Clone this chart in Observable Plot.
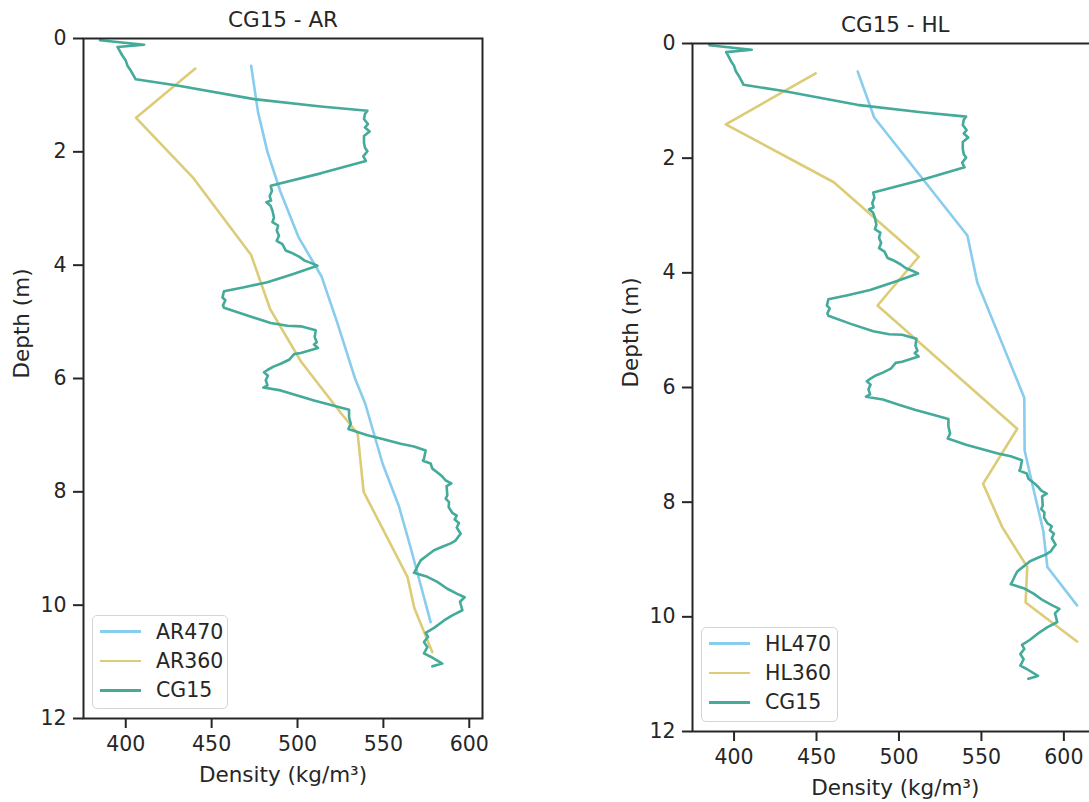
<!DOCTYPE html>
<html><head><meta charset="utf-8">
<script src="https://cdn.jsdelivr.net/npm/d3@7"></script>
<script src="https://cdn.jsdelivr.net/npm/@observablehq/plot@0.6"></script>
<style>
html,body{margin:0;padding:0;overflow:hidden;background:#fff;width:1089px;height:802px;font-family:"DejaVu Sans";color:#262626;position:relative;}
#left,#right{position:absolute;top:0;height:802px;}
#left{left:0;width:600px;} #right{left:600px;width:510px;}
#left svg,#right svg{max-width:none !important;display:block;}
.legend{position:absolute;border:1px solid #d4d4d4;border-radius:5px;background:rgba(255,255,255,0.85);box-sizing:border-box;}
.legend .sw{position:absolute;height:2.6px;width:41px;margin-top:-1.3px;}
.legend .lb{position:absolute;font-size:20.5px;line-height:20px;margin-top:-10px;white-space:nowrap;color:#262626;}
</style></head><body>
<div id="left"></div><div id="right"></div>
<script>
const depthTicks = [0, 2, 4, 6, 8, 10, 12];
const densityTicks = [400, 450, 500, 550, 600];

const cg15Depth = [0.03,0.11,0.15,0.19,0.30,0.39,0.48,0.57,0.72,0.83,1.07,1.20,1.275,1.33,1.42,1.51,1.57,1.64,1.72,1.84,1.93,1.99,2.08,2.16,2.38,2.60,2.69,2.78,2.86,2.89,2.95,3.04,3.16,3.24,3.30,3.39,3.48,3.57,3.63,3.74,3.78,3.85,3.92,3.96,4.01,4.05,4.15,4.30,4.39,4.46,4.57,4.62,4.71,4.75,4.89,5.02,5.07,5.08,5.15,5.27,5.36,5.40,5.46,5.55,5.57,5.67,5.74,5.79,5.85,5.89,5.95,6.03,6.12,6.16,6.21,6.30,6.39,6.48,6.55,6.68,6.80,6.89,7.00,7.06,7.15,7.20,7.27,7.42,7.45,7.50,7.59,7.68,7.73,7.80,7.85,7.90,8.06,8.12,8.18,8.27,8.37,8.42,8.49,8.55,8.63,8.74,8.80,8.86,8.91,8.97,9.03,9.12,9.21,9.30,9.38,9.43,9.50,9.59,9.71,9.80,9.86,9.94,10.09,10.18,10.27,10.40,10.49,10.56,10.65,10.74,10.85,10.91,11.03,11.08];
const cg15Density = [385,410.7,395.2,396,398,400,401,403,405.8,430,474.7,513.5,540.7,539.3,538.7,541,539.3,542,538.7,538.7,539.3,540.7,538.3,539.8,513.5,484.4,485.1,483.8,484.6,481.9,484.3,485.4,486.3,485.4,488.7,487.9,489.2,487.9,491.2,493.1,496.4,500.9,504.2,507.7,511.6,507.7,498,482.5,468.9,457.2,456.3,458,456.6,457.2,470.8,484.4,494.1,501.9,510.6,510,511.2,509.6,511.9,501.9,498,495.1,490.2,486,482.5,480.5,482.8,481.5,482.5,480.1,490.2,499.9,509.6,521.2,530,530,531,529.6,540.7,548.4,560,567.8,574.6,573.6,573,577.5,578.5,582.4,584.3,586.3,589.6,586.8,587.2,586.3,588.2,588,590.1,592.7,591.5,594,592.7,595,593.4,592,589.2,584.3,579.5,575.6,571.7,570.1,568.8,567.8,575.6,581.4,587.2,593,597.3,594.6,596,590.1,585.3,579.5,574.6,576,573.6,575.6,573.6,577.5,584.3,578.5];

const ar470Depth = [0.48,1.30,2.0,2.7,3.5,4.2,5.0,6.0,6.45,7.5,8.25,9.0,10.3];
const ar470Density = [473,477,482.5,490,500.5,514,523,533.5,539.5,549.5,559,566,577.5];

const ar360Depth = [0.53,1.40,2.45,3.82,4.77,5.7,6.6,6.97,8.0,9.5,10.05,10.83];
const ar360Density = [440.5,406,439,473,484,502,525,535,538.5,564,568,578.5];

const hl470Depth = [0.49,1.29,3.35,4.17,6.18,7.1,7.7,8.5,9.13,9.8];
const hl470Density = [475,485,541.5,547.5,576,576.2,581,587.5,590,608];

const hl360Depth = [0.52,1.41,2.42,3.72,4.57,6.72,7.68,8.44,9.13,9.75,10.43];
const hl360Density = [449.5,395,460.5,512,487,571.7,551,562.7,577.8,576.8,608];

const colors = {c470: "#88CCEE", c360: "#DDCC77", cg: "#44AA99"};
const ink = "#262626";

function rows(depth, density) { return depth.map((d, i) => ({d, v: density[i]})); }

function panel(el, {title, series, xDomain, width, m}) {
  const fig = Plot.plot({
    width, height: 802,
    marginLeft: m[0], marginRight: m[1], marginTop: m[2], marginBottom: m[3],
    style: {fontFamily: "DejaVu Sans", fontSize: "20px", color: ink, background: "transparent", overflow: "visible", maxWidth: "none"},
    x: {domain: xDomain, label: null},
    y: {domain: [0, 12], reverse: true, label: null},
    marks: [
      ...series.map(s => Plot.line(rows(s.depth, s.density), {x: "v", y: "d", stroke: s.color, strokeWidth: 2.6})),
      Plot.frame({stroke: ink, strokeWidth: 2}),
      Plot.axisX({anchor: "bottom", ticks: densityTicks, tickSize: 10, tickPadding: 8, fontSize: 20.5, strokeWidth: 2, stroke: ink, label: null}),
      Plot.axisY({anchor: "left", ticks: depthTicks, tickSize: 10, tickPadding: 7, fontSize: 20.5, strokeWidth: 2, stroke: ink, label: null}),
      Plot.text([title], {frameAnchor: "top", lineAnchor: "middle", dy: -18, fontSize: 21.5, fill: ink}),
      Plot.text(["Depth (m)"], {frameAnchor: "left", lineAnchor: "middle", dx: -61, rotate: -90, fontSize: 21.5, fill: ink}),
      Plot.text(["Density (kg/m³)"], {frameAnchor: "bottom", lineAnchor: "middle", dy: 57, fontSize: 21.5, fill: ink})
    ]
  });
  el.appendChild(fig);
}

function legend(left, top, w, h, items) {
  const box = document.createElement("div");
  box.className = "legend";
  Object.assign(box.style, {left: left + "px", top: top + "px", width: w + "px", height: h + "px"});
  items.forEach((it, i) => {
    const y = 15.7 + i * 29.3;
    const sw = document.createElement("div");
    sw.className = "sw";
    Object.assign(sw.style, {left: "7px", top: y + "px", background: it.color});
    const lb = document.createElement("div");
    lb.className = "lb";
    Object.assign(lb.style, {left: "63px", top: y + "px"});
    lb.textContent = it.label;
    box.appendChild(sw); box.appendChild(lb);
  });
  document.body.appendChild(box);
}

panel(document.getElementById("left"), {
  title: "CG15 - AR",
  xDomain: [375.4, 607.7],
  width: 600, m: [83, 118, 38, 84],
  series: [
    {depth: ar470Depth, density: ar470Density, color: colors.c470},
    {depth: ar360Depth, density: ar360Density, color: colors.c360},
    {depth: cg15Depth, density: cg15Density, color: colors.cg}
  ]
});
panel(document.getElementById("right"), {
  title: "CG15 - HL",
  xDomain: [374.8, 620.7],
  width: 510, m: [92, 12.5, 43, 71],
  series: [
    {depth: hl470Depth, density: hl470Density, color: colors.c470},
    {depth: hl360Depth, density: hl360Density, color: colors.c360},
    {depth: cg15Depth, density: cg15Density, color: colors.cg}
  ]
});

legend(92, 615, 136, 94, [
  {label: "AR470", color: colors.c470},
  {label: "AR360", color: colors.c360},
  {label: "CG15", color: colors.cg}
]);
legend(701, 627, 137, 95, [
  {label: "HL470", color: colors.c470},
  {label: "HL360", color: colors.c360},
  {label: "CG15", color: colors.cg}
]);
</script>
</body></html>
